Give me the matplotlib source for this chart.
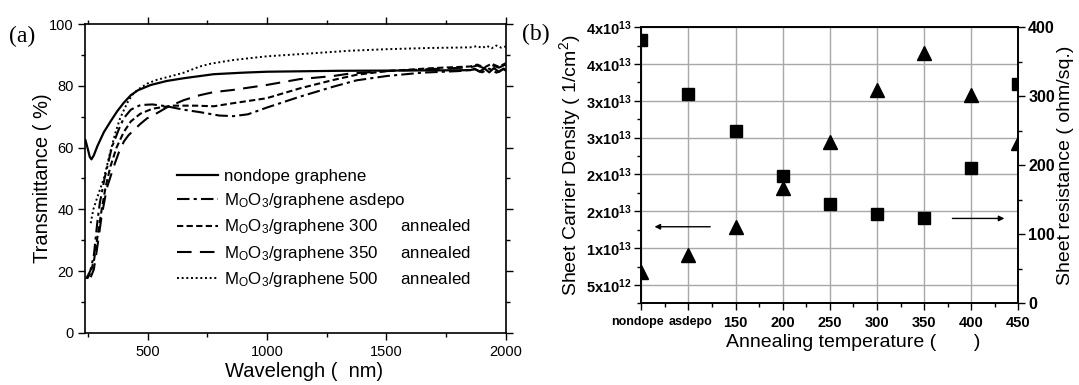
import matplotlib
matplotlib.use("Agg")
import matplotlib.pyplot as plt
from matplotlib.ticker import MultipleLocator, FixedLocator, FixedFormatter
from matplotlib.transforms import ScaledTranslation

# ---------------- data ----------------
wl_nondope = [240, 250, 258, 265, 275, 290, 317, 345, 373, 400, 430, 460, 513, 580, 652, 777, 900, 1000, 1300,
              1600, 1850, 1870, 1890, 1910, 1930, 1950, 1970, 1990, 2000]
T_nondope = [62.4, 59.5, 57.0, 56.2, 57.5, 60.5, 65.0, 68.5, 71.8, 74.5, 77.0, 78.6, 80.3, 81.6, 82.5, 83.8, 84.3,
             84.6, 84.9, 85.0, 85.1, 85.5, 84.6, 85.7, 84.4, 85.8, 84.5, 85.6, 85.0]

wl_asdepo = [243, 260, 275, 290, 300, 320, 350, 380, 400, 430, 470, 520, 580, 650, 719, 800, 860, 920, 1000, 1137,
             1275, 1374, 1500, 1650, 1800, 1870, 1900, 1930, 1960, 1990, 2000]
T_asdepo = [17.5, 20.0, 25.0, 36.0, 42.0, 50.0, 60.0, 66.0, 69.5, 72.3, 73.8, 74.0, 73.4, 72.3, 71.5, 70.4, 70.2,
            70.8, 73.0, 76.5, 79.7, 81.8, 83.2, 84.3, 84.8, 85.4, 84.4, 85.6, 84.3, 85.5, 84.8]

wl_300 = [247, 262, 277, 292, 308, 325, 345, 370, 400, 430, 470, 520, 600, 700, 777, 858, 998, 1137, 1276, 1374,
          1500, 1700, 1850, 1880, 1910, 1940, 1970, 2000]
T_300 = [17.5, 19.5, 24.0, 32.0, 40.0, 47.5, 54.0, 60.0, 65.0, 68.5, 71.0, 72.6, 73.6, 73.6, 73.4, 74.4, 76.0, 79.2,
         81.9, 83.6, 84.8, 85.8, 86.3, 86.9, 86.0, 87.2, 86.2, 87.4]

wl_350 = [262, 275, 290, 308, 330, 359, 380, 401, 420, 443, 470, 498, 540, 582, 652, 719, 777, 858, 998, 1137,
          1276, 1346, 1500, 1700, 1850, 1880, 1910, 1940, 1970, 2000]
T_350 = [18.0, 20.5, 28.0, 38.0, 47.0, 54.0, 58.5, 62.0, 64.0, 65.7, 67.7, 69.5, 71.2, 73.1, 75.4, 77.0, 78.0,
         78.7, 80.3, 82.2, 83.2, 84.0, 84.8, 85.5, 86.0, 86.6, 85.7, 86.8, 85.9, 87.0]

wl_500 = [262, 273, 290, 317, 342, 366, 385, 401, 415, 435, 457, 500, 540, 600, 652, 719, 764, 850, 928, 1000,
          1137, 1346, 1500, 1680, 1850, 1880, 1900, 1920, 1940, 1960, 1980, 2000]
T_500 = [35.5, 40.0, 44.0, 50.0, 58.0, 65.0, 69.5, 72.2, 74.5, 77.0, 78.7, 80.8, 82.0, 83.2, 84.3, 86.3, 87.2,
         88.3, 89.0, 89.6, 90.3, 91.4, 91.9, 92.3, 92.5, 92.9, 92.3, 93.0, 92.2, 93.1, 92.4, 92.8]

legend_labels = ["nondope graphene",
                 r"M$_\mathrm{O}$O$_\mathrm{3}$/graphene asdepo",
                 r"M$_\mathrm{O}$O$_\mathrm{3}$/graphene 300     annealed",
                 r"M$_\mathrm{O}$O$_\mathrm{3}$/graphene 350     annealed",
                 r"M$_\mathrm{O}$O$_\mathrm{3}$/graphene 500     annealed"]

temp_pos = [50, 100, 150, 200, 250, 300, 350, 400, 450]
temp_labels = ["nondope", "asdepo", "150", "200", "250", "300", "350", "400", "450"]
carrier_density = [6.8e12, 9.0e12, 12.9e12, 18.1e12, 24.4e12, 31.5e12, 36.5e12, 30.8e12, 24.3e12]
sheet_resistance = [381, 303, 249, 185, 144, 129, 124, 196, 318]

density_ticks = [5e12, 1e13, 1.5e13, 2e13, 2.5e13, 3e13, 3.5e13, 4e13]
density_tick_labels = [r"5x10$^{\mathbf{12}}$", r"1x10$^{\mathbf{13}}$", r"2x10$^{\mathbf{13}}$",
                       r"2x10$^{\mathbf{13}}$", r"3x10$^{\mathbf{13}}$", r"3x10$^{\mathbf{13}}$",
                       r"4x10$^{\mathbf{13}}$", r"4x10$^{\mathbf{13}}$"]

# ---------------- fonts ----------------
SANS = "Liberation Sans"
plt.rcParams['font.family'] = [SANS, 'DejaVu Sans']
plt.rcParams['mathtext.fontset'] = 'custom'
plt.rcParams['mathtext.rm'] = SANS
plt.rcParams['mathtext.bf'] = SANS + ':bold'
plt.rcParams['mathtext.it'] = SANS + ':italic'

fig = plt.figure(figsize=(10.79, 3.85), dpi=100)

# ---------------- panel (a) ----------------
ax1 = fig.add_axes([0.0792, 0.1358, 0.3897, 0.8013])
ax1.plot(wl_nondope, T_nondope, color='black', lw=1.6, ls='-', label=legend_labels[0])
ax1.plot(wl_asdepo, T_asdepo, color='black', lw=1.5, ls=(0, (6, 2, 1.5, 2)), label=legend_labels[1])
ax1.plot(wl_300, T_300, color='black', lw=1.5, ls=(0, (3, 1.6)), label=legend_labels[2])
ax1.plot(wl_350, T_350, color='black', lw=1.5, ls=(0, (7, 4)), label=legend_labels[3])
ax1.plot(wl_500, T_500, color='black', lw=1.4, ls=(0, (1, 1.4)), label=legend_labels[4])
ax1.set_xlim(240, 2000)
ax1.set_ylim(0, 100)
ax1.xaxis.set_major_locator(MultipleLocator(500))
ax1.xaxis.set_minor_locator(MultipleLocator(250))
ax1.yaxis.set_major_locator(MultipleLocator(20))
ax1.yaxis.set_minor_locator(MultipleLocator(10))
ax1.tick_params(which='both', direction='out', top=True, right=True, labelsize=10.5, width=1)
ax1.tick_params(which='major', length=5)
ax1.tick_params(which='minor', length=3)
for s in ax1.spines.values():
    s.set_linewidth(1.2)
ax1.set_xlabel("Wavelengh (  nm)", fontsize=14.5)
ax1.xaxis.set_label_coords(0.52, -0.095)
ax1.set_ylabel("Transmittance ( %)", fontsize=14.5)
ax1.yaxis.set_label_coords(-0.08, 0.5)
leg = ax1.legend(loc='upper left', bbox_to_anchor=(0.2176, 0.530), frameon=False, fontsize=12.2,
                 handlelength=2.4, handletextpad=0.4, labelspacing=0.42, borderaxespad=0, borderpad=0)
fig.text(0.008, 0.89, "(a)", family='Liberation Serif', fontsize=17)

# ---------------- panel (b) ----------------
ax2 = fig.add_axes([0.5944, 0.2122, 0.3495, 0.7169])
ax3 = ax2.twinx()
ax2.plot(temp_pos, carrier_density, ls='none', marker='^', ms=9.5, color='black', clip_on=True)
ax3.plot(temp_pos, sheet_resistance, ls='none', marker='s', ms=8, color='black', clip_on=True)
ax2.set_xlim(50, 450)
ax2.set_ylim(2.5e12, 4e13)
ax3.set_ylim(0, 400)
ax2.xaxis.set_major_locator(FixedLocator(temp_pos))
ax2.xaxis.set_major_formatter(FixedFormatter(temp_labels))
ax2.xaxis.set_minor_locator(MultipleLocator(25))
ax2.yaxis.set_major_locator(FixedLocator(density_ticks))
ax2.yaxis.set_major_formatter(FixedFormatter(density_tick_labels))
ax2.yaxis.set_minor_locator(MultipleLocator(2.5e12))
ax3.yaxis.set_major_locator(MultipleLocator(100))
ax3.yaxis.set_minor_locator(MultipleLocator(50))
ax2.grid(True, which='major', color='#a8a8a8', lw=1)
ax2.set_axisbelow(True)
for a in (ax2, ax3):
    a.tick_params(which='both', direction='out', width=1)
    a.tick_params(which='major', length=5)
    a.tick_params(which='minor', length=3)
    for s in a.spines.values():
        s.set_linewidth(1.2)
ax2.tick_params(axis='x', labelsize=10.5, pad=4)
ax2.tick_params(axis='y', labelsize=10.5, pad=2)
ax3.tick_params(axis='y', labelsize=11.5, pad=2)
for lab in ax2.get_xticklabels() + ax2.get_yticklabels() + ax3.get_yticklabels():
    lab.set_fontweight('bold')
xl = ax2.get_xticklabels()
for lab, dx in ((xl[0], -4), (xl[1], 2)):
    lab.set_fontsize(9)
    lab.set_transform(lab.get_transform() + ScaledTranslation(dx / 100, 0, fig.dpi_scale_trans))
ax2.set_xlabel("Annealing temperature (       )", fontsize=14)
ax2.xaxis.set_label_coords(0.561, -0.113)
ax2.set_ylabel("Sheet Carrier Density ( 1/cm$^\\mathrm{2}$)", fontsize=14)
ax2.yaxis.set_label_coords(-0.155, 0.5)
ax3.set_ylabel("Sheet resistance ( ohm/sq.)", fontsize=14, rotation=90)
ax3.yaxis.set_label_coords(1066 / 1079, 1 - 165.3 / 385, transform=fig.transFigure)
ax3.yaxis.label.set_horizontalalignment('center')
ax3.yaxis.label.set_verticalalignment('center')
ax3.yaxis.label.set_rotation_mode('default')

ax2.annotate("", xy=(61, 12.9e12), xytext=(126, 12.9e12),
             arrowprops=dict(arrowstyle='-|>', color='black', lw=1, mutation_scale=8))
ax3.annotate("", xy=(438, 123), xytext=(377, 123),
             arrowprops=dict(arrowstyle='-|>', color='black', lw=1, mutation_scale=8))
fig.text(0.484, 0.895, "(b)", family='Liberation Serif', fontsize=17)

fig.savefig("out.png", dpi=100)
